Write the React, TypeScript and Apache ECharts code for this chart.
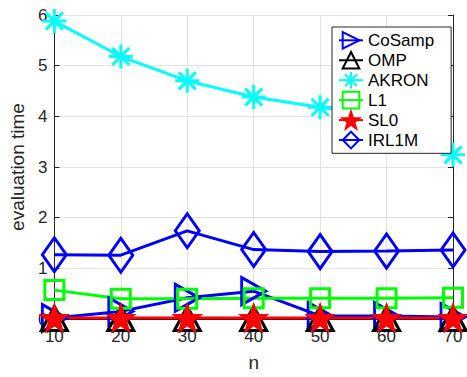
import React, { useEffect, useRef } from "react";
import * as echarts from "echarts";

const nValues = [10, 20, 30, 40, 50, 60, 70];
const cosamp = [0.02, 0.15, 0.42, 0.55, 0.06, 0.06, 0.04];
const omp = [0.01, 0.01, 0.01, 0.01, 0.01, 0.01, 0.01];
const akron = [5.88, 5.18, 4.7, 4.38, 4.18, 4.0, 3.24];
const l1 = [0.57, 0.4, 0.4, 0.41, 0.41, 0.41, 0.42];
const sl0 = [0.02, 0.02, 0.02, 0.02, 0.02, 0.02, 0.02];
const irl1m = [1.27, 1.26, 1.74, 1.37, 1.33, 1.34, 1.36];
const yTicks = [0, 1, 2, 3, 4, 5, 6];
const xTicks = [10, 20, 30, 40, 50, 60, 70];

const FONT = "'Liberation Sans', Arial, sans-serif";
const TXT = "#262626";

const asterisk =
  "path://M0,-12L0,12M-12,0L12,0M-8.5,-8.5L8.5,8.5M-8.5,8.5L8.5,-8.5";
const star = (() => {
  const R = 13, r = 5.2;
  let d = "";
  for (let i = 0; i < 10; i++) {
    const rad = i % 2 === 0 ? R : r;
    const a = -Math.PI / 2 + (i * Math.PI) / 5;
    d += (i === 0 ? "M" : "L") + (rad * Math.cos(a)).toFixed(2) + "," + (rad * Math.sin(a)).toFixed(2);
  }
  return "path://" + d + "Z";
})();

function pairs(vals: number[]) {
  return nValues.map((n, i) => [n, vals[i]]);
}

function mkSeries(name: string, vals: number[], color: string, symbol: string, size: any, extra: any = {}) {
  return {
    name,
    type: "line",
    data: pairs(vals),
    symbol,
    symbolSize: size,
    showSymbol: true,
    clip: false,
    lineStyle: { color, width: 3 },
    itemStyle: { color: "rgba(0,0,0,0)", borderColor: color, borderWidth: 3 },
    emphasis: { disabled: true },
    ...extra,
  };
}

export default function App() {
  const ref = useRef<HTMLDivElement>(null);
  useEffect(() => {
    if (!ref.current) return;
    const chart = echarts.init(ref.current, undefined, { renderer: "svg" });
    const axisLine = { show: true, lineStyle: { color: TXT, width: 1 } };
    const tick = { show: true, inside: true, length: 5, lineStyle: { color: TXT } };
    chart.setOption({
      animation: false,
      backgroundColor: "#fff",
      grid: { left: 49, top: 15, right: 14, bottom: 56, containLabel: false },
      xAxis: [
        {
          type: "value",
          min: 10,
          max: 70,
          interval: 10,
          name: "n",
          nameLocation: "middle",
          nameGap: 34,
          nameTextStyle: { fontFamily: FONT, fontSize: 19, color: TXT },
          axisLine,
          axisTick: tick,
          axisLabel: { fontFamily: FONT, fontSize: 17, color: TXT, margin: 9, formatter: (v: number) => (xTicks.includes(v) ? String(v) : "") },
          splitLine: { show: true, lineStyle: { color: "#e3e3e3", width: 1 } },
        },
        {
          type: "value",
          position: "top",
          min: 10,
          max: 70,
          interval: 10,
          axisLine,
          axisTick: tick,
          axisLabel: { show: false },
          splitLine: { show: false },
        },
      ],
      yAxis: [
        {
          type: "value",
          min: 0,
          max: 6,
          interval: 1,
          name: "evaluation time",
          nameLocation: "middle",
          nameGap: 21,
          nameTextStyle: { fontFamily: FONT, fontSize: 19, color: TXT },
          axisLine,
          axisTick: tick,
          axisLabel: { fontFamily: FONT, fontSize: 17, color: TXT, margin: 7, formatter: (v: number) => (yTicks.includes(v) ? String(v) : "") },
          splitLine: { show: true, lineStyle: { color: "#e3e3e3", width: 1 } },
        },
        {
          type: "value",
          position: "right",
          min: 0,
          max: 6,
          interval: 1,
          axisLine,
          axisTick: tick,
          axisLabel: { show: false },
          splitLine: { show: false },
        },
      ],
      legend: {
        orient: "vertical",
        left: 332,
        top: 27,
        z: 10,
        padding: [4, 17, 4, 6],
        itemGap: 1.3,
        itemWidth: 24,
        itemHeight: 20.8,
        backgroundColor: "#fff",
        borderColor: TXT,
        borderWidth: 1,
        textStyle: { fontFamily: FONT, fontSize: 17, color: "#000" },
        selectedMode: false,
        data: ["CoSamp", "OMP", "AKRON", "L1", "SL0", "IRL1M"],
      },
      series: [
        mkSeries("CoSamp", cosamp, "#0000ff", "triangle", [27, 24], { symbolRotate: -90 }),
        mkSeries("OMP", omp, "#000000", "triangle", [26, 24]),
        mkSeries("AKRON", akron, "#00ffff", asterisk, 24),
        mkSeries("L1", l1, "#00ff00", "rect", 19),
        mkSeries("SL0", sl0, "#ff0000", star, 26, {
          itemStyle: { color: "#ff0000", borderColor: "#ff0000", borderWidth: 2 },
        }),
        mkSeries("IRL1M", irl1m, "#0000ff", "diamond", [24, 34]),
      ],
    });
    return () => chart.dispose();
  }, []);
  return (
    <div
      ref={ref}
      style={{ position: "fixed", left: 0, top: 0, width: 467, height: 377 }}
    />
  );
}
